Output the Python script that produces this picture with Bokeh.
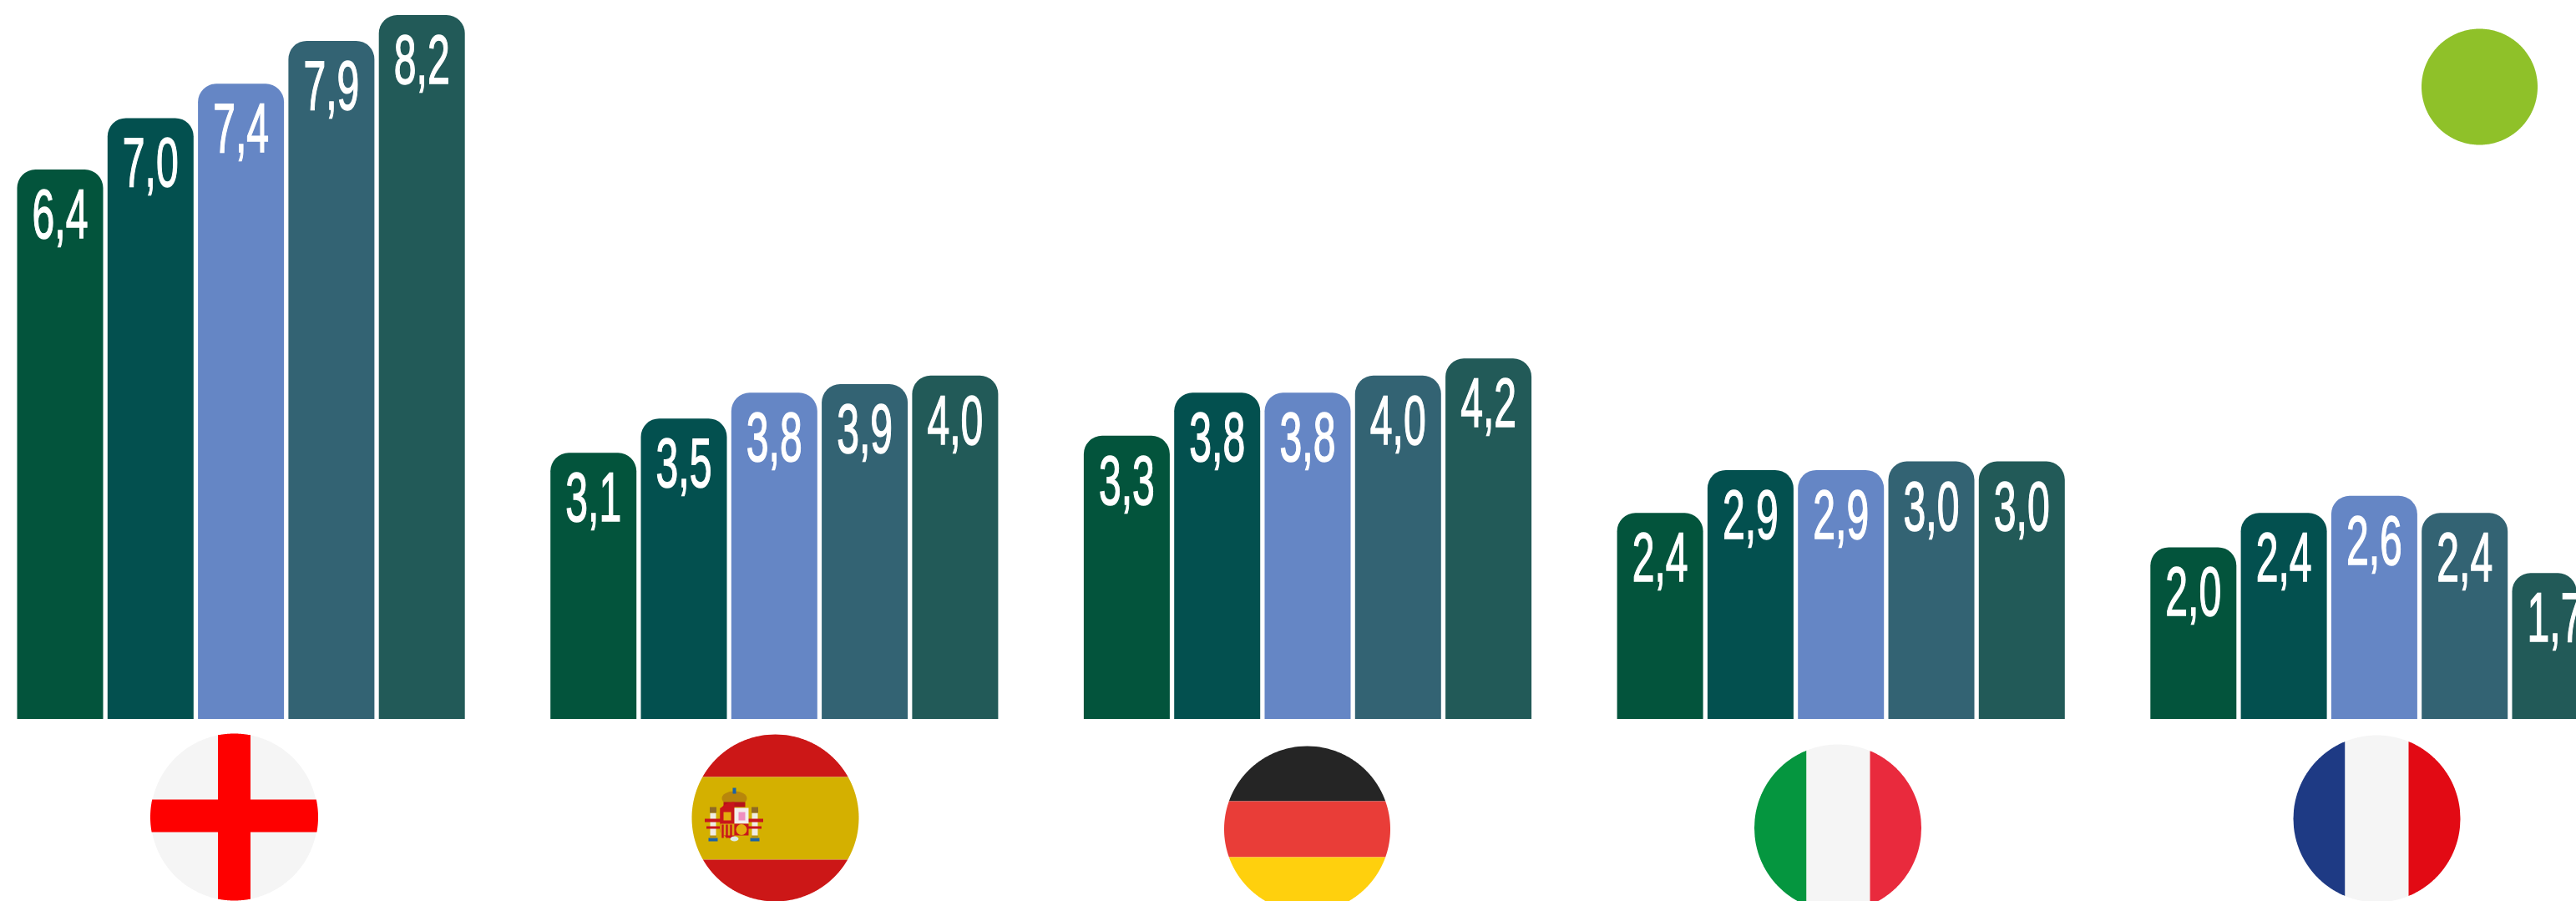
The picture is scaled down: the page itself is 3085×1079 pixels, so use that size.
import numpy as np
from bokeh.core.properties import value
from bokeh.embed import file_html
from bokeh.models import ColumnDataSource, Range1d
from bokeh.plotting import figure
from bokeh.resources import INLINE

countries = ["Inglaterra", "España", "Alemania", "Italia", "Francia"]
series_1 = [6.4, 3.1, 3.3, 2.4, 2.0]
series_2 = [7.0, 3.5, 3.8, 2.9, 2.4]
series_3 = [7.4, 3.8, 3.8, 2.9, 2.6]
series_4 = [7.9, 3.9, 4.0, 3.0, 2.4]
series_5 = [8.2, 4.0, 4.2, 3.0, 1.7]
series_colors = ["#03543c", "#03504f", "#6586c5", "#336373", "#225a58"]
all_series = [series_1, series_2, series_3, series_4, series_5]

W, H = 3085, 1079
BASE, PX_PER_UNIT = 860.5, 102.8
GROUP_LEFT, GROUP_STEP, BAR_W, BAR_STEP = 20.0, 638.7, 103.0, 108.3

p = figure(width=W, height=H, output_backend="svg", toolbar_location=None,
           x_range=Range1d(0, W),
           y_range=Range1d((BASE - H) / PX_PER_UNIT, BASE / PX_PER_UNIT),
           min_border=0, background_fill_color="white", border_fill_color="white")
p.extra_y_ranges = {"px": Range1d(H, 0)}
p.axis.visible = False
p.grid.visible = False
p.outline_line_color = None


def fmt(v):
    return f"{v:.1f}".replace(".", ",")


for s, (vals, col) in enumerate(zip(all_series, series_colors)):
    xs = [GROUP_LEFT + g * GROUP_STEP + s * BAR_STEP + BAR_W / 2 for g in range(len(vals))]
    src = ColumnDataSource(dict(x=xs, top=vals, label=[fmt(v) for v in vals]))
    p.vbar(x="x", top="top", bottom=0, width=BAR_W, source=src, fill_color=col,
           line_color=None, border_radius=(22, 22, 0, 0))
    p.text(x="x", y="top", text="label", source=src, text_color="white",
           text_font=value("Liberation Sans"), text_font_size="83px",
           text_align="center", text_baseline="alphabetic", y_offset=53)

T = np.linspace(0, 2 * np.pi, 361)


def disc(cx, cy, r, color):
    p.patch(cx + r * np.cos(T), cy + r * np.sin(T), fill_color=color, line_color=None, y_range_name="px")


def hband(cx, cy, r, a, b, color):
    ys = np.linspace(max(a, cy - r), min(b, cy + r), 120)
    d = np.sqrt(np.maximum(r * r - (ys - cy) ** 2, 0))
    p.patch(np.r_[cx - d, (cx + d)[::-1]], np.r_[ys, ys[::-1]], fill_color=color, line_color=None, y_range_name="px")


def vband(cx, cy, r, a, b, color):
    xs = np.linspace(max(a, cx - r), min(b, cx + r), 120)
    d = np.sqrt(np.maximum(r * r - (xs - cx) ** 2, 0))
    p.patch(np.r_[xs, xs[::-1]], np.r_[cy - d, (cy + d)[::-1]], fill_color=color, line_color=None, y_range_name="px")


def box(x0, x1, y0, y1, color):
    p.quad(left=x0, right=x1, top=y0, bottom=y1, fill_color=color, line_color=None, y_range_name="px")


# England
disc(280, 978, 100, "#f5f5f5")
hband(280, 978, 100.5, 957, 996, "#fe0000")
vband(280, 978, 100, 260.5, 299.5, "#fe0000")
box(260.5, 299.5, 880, 900, "#fe0000")

# Spain
hband(928, 979, 100, 870, 930, "#cc1717")
hband(928, 979, 100, 930, 1029, "#d4b000")
hband(928, 979, 100, 1029, 1090, "#cc1717")
for px in (853.5, 903.5):
    box(px - 3.5, px + 3.5, 973, 1001, "#f0ece4")
    box(px - 5.5, px + 5.5, 1003, 1007, "#1b62a8")
    box(px - 4, px + 4, 1000, 1003, "#b59214")
    box(px - 4, px + 4, 966, 973, "#8f6a25")
    box(px - 10, px + 10, 980, 984, "#c8151b")
    box(px - 8, px + 8, 989, 992, "#c8151b")
p.ellipse(x=[879], y=[955.5], width=30, height=17, fill_color="#b8860b", line_color=None, y_range_name="px")
box(866, 892, 960, 966, "#b5121b")
box(877, 881, 943, 950, "#1b62a8")
vband(879, 982, 22, 862, 879, "#c8151b")
box(862, 879, 967, 986, "#c8151b")
box(879, 896, 967, 986, "#f3eeee")
box(884, 892, 972, 982, "#ef8fc0")
box(866, 875, 972, 982, "#e3ab0c")
box(862, 879, 986, 1000, "#d9a70f")
for sx in (865, 870, 875):
    box(sx - 1.2, sx + 1.2, 987, 1003, "#c8151b")
box(879, 896, 986, 1000, "#c8151b")
p.ellipse(x=[887.5], y=[993], width=13, height=13, fill_color="#e3ab0c", line_color=None, y_range_name="px")
p.ellipse(x=[879], y=[1004], width=10, height=6, fill_color="#dcebe6", line_color=None, y_range_name="px")

# Germany
hband(1565, 992.5, 99.5, 880, 959, "#252525")
hband(1565, 992.5, 99.5, 959, 1026, "#e93d38")
hband(1565, 992.5, 99.5, 1026, 1095, "#ffd00d")

# Italy
vband(2200.5, 991, 100, 2100, 2163, "#05963f")
vband(2200.5, 991, 100, 2163, 2239, "#f5f5f5")
vband(2200.5, 991, 100, 2239, 2301, "#e92a3d")

# France
vband(2846, 980, 100, 2746, 2808, "#1e3a84")
vband(2846, 980, 100, 2808, 2884, "#f5f5f5")
vband(2846, 980, 100, 2884, 2947, "#e20a14")

# Green dot
disc(2969, 103.5, 69.5, "#8fc129")

squeeze = """<script>
(function () {
  function walk(root, out) {
    root.querySelectorAll('*').forEach(function (el) {
      if (el.tagName && el.tagName.toLowerCase() === 'text') out.push(el);
      if (el.shadowRoot) walk(el.shadowRoot, out);
    });
    return out;
  }
  var tries = 0;
  var t = setInterval(function () {
    tries += 1;
    walk(document, []).forEach(function (el) {
      if (!el.getAttribute('textLength')) {
        var n = el.getComputedTextLength();
        if (n > 0) {
          var b0 = el.getBBox();
          var c0 = b0.x + b0.width / 2;
          el.setAttribute('lengthAdjust', 'spacingAndGlyphs');
          el.setAttribute('textLength', String(n * 0.58));
          el.setAttribute('stroke', 'white');
          el.setAttribute('stroke-width', '1.5');
          var b1 = el.getBBox();
          var c1 = b1.x + b1.width / 2;
          el.setAttribute('x', String(parseFloat(el.getAttribute('x') || '0') + c0 - c1));
        }
      }
    });
    if (tries > 40) clearInterval(t);
  }, 50);
})();
</script>"""

html = file_html(p, INLINE).replace("</body>", squeeze + "</body>")
open("out.html", "w").write(html)
